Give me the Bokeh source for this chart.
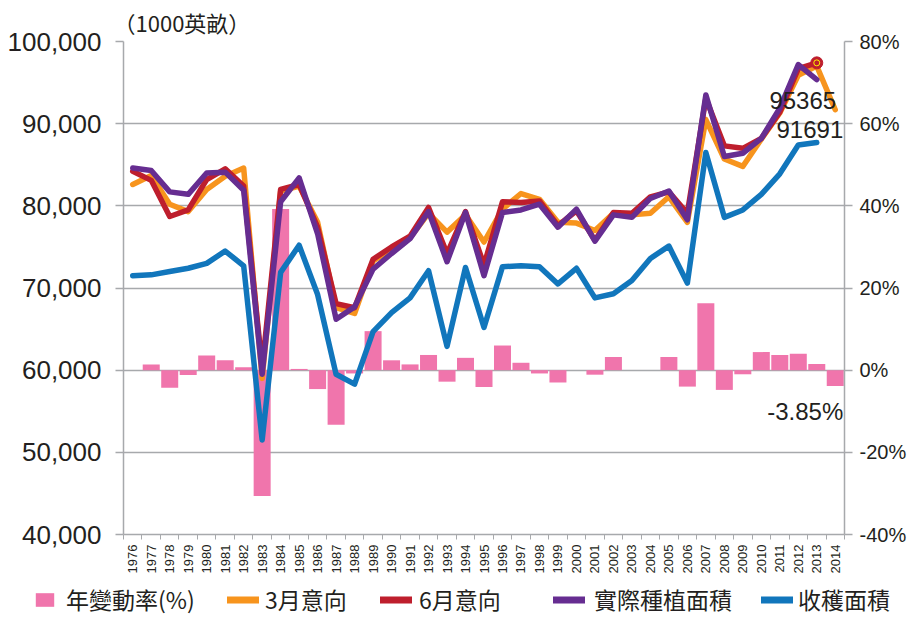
import math
from bokeh.plotting import figure
from bokeh.models import (FactorRange, Range1d, LinearAxis, CategoricalAxis, FixedTicker,
                          NumeralTickFormatter, PrintfTickFormatter, Grid, Legend, LegendItem,
                          ColumnDataSource)
from bokeh.core.properties import value
from bokeh.embed import file_html
from bokeh.resources import INLINE

NaN = float("nan")

# ---------------- data ----------------
years = [str(y) for y in range(1976, 2015)]

pct_change = [NaN, 1.4, -4.3, -1.2, 3.6, 2.4, 0.7, -30.6, 39.2, 0.3,
              -4.6, -13.3, -0.8, 9.5, 2.4, 1.4, 3.7, -2.8, 3.0, -4.1,
              6.0, 1.8, -0.8, -3.0, 0.0, -1.1, 3.2, 0.0, 0.0, 3.2,
              -4.0, 16.3, -4.8, -1.0, 4.4, 3.7, 4.0, 1.5, -3.85]

march_intent = [82600, 83700, 80200, 79300, 82000, 83600, 84600, 59000, 81800, 82400,
                78000, 67600, 66900, 73300, 74700, 76100, 79100, 76800, 78900, 75600,
                79600, 81500, 80800, 78000, 77900, 77000, 79100, 78900, 79100, 81100,
                78000, 90500, 85700, 84800, 88100, 91300, 95900, 97000, 91691]

june_intent = [84200, 83100, 78700, 79500, 83200, 84500, 82400, 60300, 82000, 82600,
               77400, 68100, 67600, 73500, 75000, 76300, 79800, 74200, 79300, 72800,
               80500, 80400, 80600, 77600, 79400, 75800, 79200, 79100, 81100, 81700,
               79100, 93100, 87300, 87000, 88200, 91400, 96700, 97400, NaN]

planted = [84600, 84300, 81700, 81400, 84000, 84100, 81900, 59500, 80500, 83400,
           76600, 66200, 67700, 72300, 74200, 76000, 79300, 73200, 79200, 71500,
           79200, 79500, 80200, 77400, 79600, 75700, 78900, 78600, 80900, 81800,
           78300, 93500, 86000, 86400, 88200, 91900, 97200, 95365, NaN]

harvested = [71500, 71600, 72000, 72400, 73000, 74500, 72700, 51500, 71900, 75200,
             69200, 59500, 58300, 64700, 67000, 68800, 72100, 62900, 72500, 65200,
             72600, 72700, 72600, 70500, 72400, 68800, 69300, 70900, 73600, 75100,
             70600, 86500, 78600, 79500, 81400, 83900, 87400, 87700, NaN]

left_ticks = [40000, 50000, 60000, 70000, 80000, 90000, 100000]
right_ticks = [-40, -20, 0, 20, 40, 60, 80]
unit_label = "（1000英畝）"
legend_labels = ["年變動率(%)", "3月意向", "6月意向", "實際種植面積", "收穫面積"]

# ---------------- style ----------------
PINK = "#F075AC"
ORANGE = "#F7941D"
RED = "#BE1E2D"
PURPLE = "#662D91"
BLUE = "#1176BC"
GRAY = "#A7A9AC"
TEXT = "#231F20"
FONT = "Liberation Sans"
CJK = "Noto Sans CJK TC"

src = ColumnDataSource(dict(year=years, pct=pct_change, march=march_intent, june=june_intent,
                            planted=planted, harvested=harvested))

p = figure(frame_width=721, frame_height=493,
           x_range=FactorRange(factors=years, range_padding=0, factor_padding=0),
           y_range=Range1d(left_ticks[0], left_ticks[-1]),
           x_axis_type=None, y_axis_type=None,
           output_backend="svg", toolbar_location=None,
           min_border_left=123, min_border_top=34, min_border_bottom=0, min_border_right=0)
p.outline_line_color = None
p.background_fill_color = "white"
p.border_fill_color = "white"
p.extra_y_ranges = {"pct": Range1d(right_ticks[0], right_ticks[-1])}

# title (unit)
p.title.text = unit_label
p.title.text_font = CJK
p.title.text_font_size = "22px"
p.title.text_font_style = "normal"
p.title.text_color = TEXT
p.title.align = "left"
p.title.offset = -10
p.title.standoff = 7

# left axis
yl = LinearAxis(ticker=FixedTicker(ticks=left_ticks), formatter=NumeralTickFormatter(format="0,0"))
yl.axis_line_color = GRAY
yl.axis_line_width = 1.5
yl.major_tick_line_color = GRAY
yl.major_tick_line_width = 1.5
yl.major_tick_out = 8
yl.major_tick_in = 0
yl.minor_tick_line_color = None
yl.minor_tick_out = 0
yl.major_label_text_font = FONT
yl.major_label_text_font_size = "26px"
yl.major_label_text_color = TEXT
yl.major_label_standoff = 14
p.add_layout(yl, "left")

# right axis
yr = LinearAxis(y_range_name="pct", ticker=FixedTicker(ticks=right_ticks),
                formatter=PrintfTickFormatter(format="%d%%"))
yr.axis_line_color = GRAY
yr.axis_line_width = 1.5
yr.major_tick_line_color = GRAY
yr.major_tick_line_width = 1.5
yr.major_tick_out = 8
yr.major_tick_in = 0
yr.minor_tick_line_color = None
yr.minor_tick_out = 0
yr.major_label_text_font = FONT
yr.major_label_text_font_size = "20px"
yr.major_label_text_color = TEXT
yr.major_label_standoff = 7
p.add_layout(yr, "right")

# horizontal grid
grid = Grid(dimension=1, ticker=FixedTicker(ticks=left_ticks),
            grid_line_color=GRAY, grid_line_width=1.5)
p.add_layout(grid)

# x axis: tick marks at category boundaries + year labels
xt = LinearAxis(ticker=FixedTicker(ticks=list(range(len(years) + 1))))
xt.axis_line_color = GRAY
xt.axis_line_width = 1.5
xt.major_tick_line_color = GRAY
xt.major_tick_line_width = 1
xt.major_tick_out = 5
xt.major_tick_in = 0
xt.minor_tick_line_color = None
xt.minor_tick_out = 0
xt.major_label_text_font_size = "0px"
xt.major_label_text_color = None
xt.major_label_standoff = 0
p.add_layout(xt, "below")

xl = CategoricalAxis()
xl.axis_line_color = None
xl.major_tick_line_color = None
xl.major_tick_out = 0
xl.major_tick_in = 0
xl.major_label_orientation = math.pi / 2
xl.major_label_text_font = FONT
xl.major_label_text_font_size = "13px"
xl.major_label_text_color = TEXT
xl.major_label_standoff = 5
p.add_layout(xl, "below")

# ---------------- glyphs ----------------
r_bar = p.vbar(x="year", top="pct", bottom=0, width=0.92, source=src, y_range_name="pct",
               fill_color=PINK, line_color=None)
line_kw = dict(line_width=5.5, line_join="round", line_cap="round")
r_mar = p.line(x="year", y="march", source=src, line_color=ORANGE, **line_kw)
r_jun = p.line(x="year", y="june", source=src, line_color=RED, **line_kw)
r_pla = p.line(x="year", y="planted", source=src, line_color=PURPLE, **line_kw)
r_har = p.line(x="year", y="harvested", source=src, line_color=BLUE, **line_kw)

# highlighted June 2013 point
i13 = years.index("2013")
p.scatter(x=[years[i13]], y=[june_intent[i13]], size=12, fill_color=RED, line_color=RED)
p.scatter(x=[years[i13]], y=[june_intent[i13]], size=6, fill_color=None,
          line_color="#FFF200", line_width=1)

# value labels
txt_kw = dict(text_font=value(FONT), text_font_size="24px", text_color=TEXT,
              text_baseline="middle")
p.text(x=[years[i13]], y=[planted[i13]], text=[f"{planted[i13]:.0f}"],
       x_offset=-14, y_offset=21, text_align="center", **txt_kw)
i14 = years.index("2014")
p.text(x=[years[i14]], y=[march_intent[i14]], text=[f"{march_intent[i14]:.0f}"],
       x_offset=8, y_offset=20, text_align="right", **txt_kw)
p.text(x=[years[i14]], y=[pct_change[i14]], text=[f"{pct_change[i14]:.2f}%"],
       x_offset=8, y_offset=26, text_align="right", y_range_name="pct", **txt_kw)

# ---------------- legend strip (separate root below the chart) ----------------
LG_H = 40
lg_fig = figure(width=906, height=LG_H, x_range=Range1d(0, 906), y_range=Range1d(0, LG_H),
                x_axis_type=None, y_axis_type=None, output_backend="svg",
                toolbar_location=None, min_border=0)
lg_fig.outline_line_color = None
lg_fig.background_fill_color = "white"
lg_fig.border_fill_color = "white"

# legend swatches only (single NaN sample so that nothing is plotted)
sw_kw = dict(line_width=7, line_cap="round")
d_bar = lg_fig.vbar(x=[NaN], top=[NaN], width=0.9, fill_color=PINK, line_color=None)
d_mar = lg_fig.line(x=[NaN], y=[NaN], line_color=ORANGE, **sw_kw)
d_jun = lg_fig.line(x=[NaN], y=[NaN], line_color=RED, **sw_kw)
d_pla = lg_fig.line(x=[NaN], y=[NaN], line_color=PURPLE, **sw_kw)
d_har = lg_fig.line(x=[NaN], y=[NaN], line_color=BLUE, **sw_kw)


def add_legend(label, rend, x, gw, gh, standoff):
    lg = Legend(items=[LegendItem(label=value(label), renderers=[rend])],
                location=(x, 0), orientation="horizontal", padding=0, margin=0, spacing=0,
                glyph_width=gw, glyph_height=gh, label_standoff=standoff,
                label_text_font=CJK, label_text_font_size="23px", label_text_color=TEXT,
                border_line_color=None, background_fill_alpha=0)
    lg_fig.add_layout(lg)


add_legend(legend_labels[0], d_bar, 33, 23, 17, 10)
add_legend(legend_labels[1], d_mar, 227, 32, 17, 6)
add_legend(legend_labels[2], d_jun, 380, 32, 17, 7)
add_legend(legend_labels[3], d_pla, 553, 32, 17, 9)
add_legend(legend_labels[4], d_har, 761, 32, 17, 5)

open("out.html", "w").write(file_html([p, lg_fig], INLINE))
